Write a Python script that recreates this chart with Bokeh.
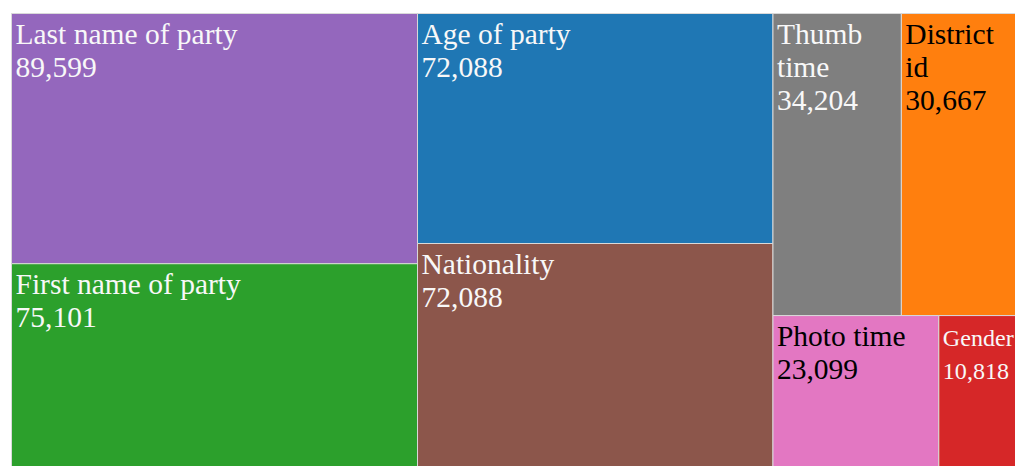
from bokeh.plotting import figure
from bokeh.models import Range1d, ColumnDataSource
from bokeh.core.properties import value
from bokeh.embed import file_html
from bokeh.resources import INLINE

labels = ["Last name of party", "First name of party", "Age of party", "Nationality",
          "Thumb time", "District id", "Photo time", "Gender"]
counts = [89599, 75101, 72088, 72088, 34204, 30667, 23099, 10818]
colors = ["#9467bd", "#2ca02c", "#1f77b4", "#8c564b",
          "#7f7f7f", "#ff7f0e", "#e377c2", "#d62728"]

W, H = 1015, 466
X0, Y0, TW, TH = 11, 13, 1005, 460


def squarify(vals, x0, y0, x1, y1, ratio=(1 + 5 ** 0.5) / 2):
    rects = [None] * len(vals)
    n = len(vals)
    i0 = i1 = 0
    total = float(sum(vals))
    while i0 < n:
        dx, dy = x1 - x0, y1 - y0
        s = vals[i1]
        i1 += 1
        mn = mx = s
        alpha = max(dy / dx, dx / dy) / (total * ratio)
        beta = s * s * alpha
        minr = max(mx / beta, beta / mn)
        while i1 < n:
            v = vals[i1]
            s2 = s + v
            mn2, mx2 = min(mn, v), max(mx, v)
            beta = s2 * s2 * alpha
            nr = max(mx2 / beta, beta / mn2)
            if nr > minr:
                break
            s, mn, mx, minr = s2, mn2, mx2, nr
            i1 += 1
        row = range(i0, i1)
        if dx < dy:
            ny = y0 + dy * s / total
            xx = x0
            for k in row:
                w = dx * vals[k] / s
                rects[k] = (xx, y0, xx + w, ny)
                xx += w
            y0 = ny
        else:
            nx = x0 + dx * s / total
            yy = y0
            for k in row:
                h = dy * vals[k] / s
                rects[k] = (x0, yy, nx, yy + h)
                yy += h
            x0 = nx
        total -= s
        i0 = i1
    return rects


def lum(c):
    r, g, b = int(c[1:3], 16), int(c[3:5], 16), int(c[5:7], 16)
    return 0.299 * r + 0.587 * g + 0.114 * b


def wrap(label, width, fs):
    words = label.split()
    lines, cur = [], ""
    for w in words:
        cand = (cur + " " + w).strip()
        if cur and len(cand) * 0.47 * fs > width - 6:
            lines.append(cur)
            cur = w
        else:
            cur = cand
    lines.append(cur)
    return lines


rects = squarify(counts, X0, Y0, X0 + TW, Y0 + TH)

src = ColumnDataSource(dict(
    left=[r[0] for r in rects], right=[r[2] for r in rects],
    top=[r[1] for r in rects], bottom=[r[3] for r in rects], color=colors))

tx, ty, tt, tc, tf = [], [], [], [], []
for (x0, y0, x1, y1), lab, v, c in zip(rects, labels, counts, colors):
    fs = min(29.5, (x1 - x0) * 0.31)
    lines = wrap(lab, x1 - x0, fs) + [f"{v:,}"]
    col = "black" if lum(c) > 140 else "#f8f8f8"
    for i, ln in enumerate(lines):
        tx.append(x0 + 4)
        ty.append(y0 + 20 + 33.5 * i + (29.5 - fs) * 0.5)
        tt.append(ln)
        tc.append(col)
        tf.append(f"{fs:.1f}px")
tsrc = ColumnDataSource(dict(x=tx, y=ty, text=tt, color=tc, fs=tf))

p = figure(width=W, height=H, output_backend="svg", toolbar_location=None,
           x_range=Range1d(0, W), y_range=Range1d(H, 0), min_border=0)
p.axis.visible = False
p.grid.visible = False
p.outline_line_color = None
p.background_fill_color = "white"

p.quad(left="left", right="right", top="top", bottom="bottom", source=src,
       fill_color="color", line_color="#d9d9d9", line_width=1)
p.text(x="x", y="y", text="text", source=tsrc, text_color="color",
       text_font=value("Liberation Serif"), text_font_size="fs",
       text_baseline="alphabetic", text_align="left")

open("out.html", "w").write(file_html(p, INLINE))
